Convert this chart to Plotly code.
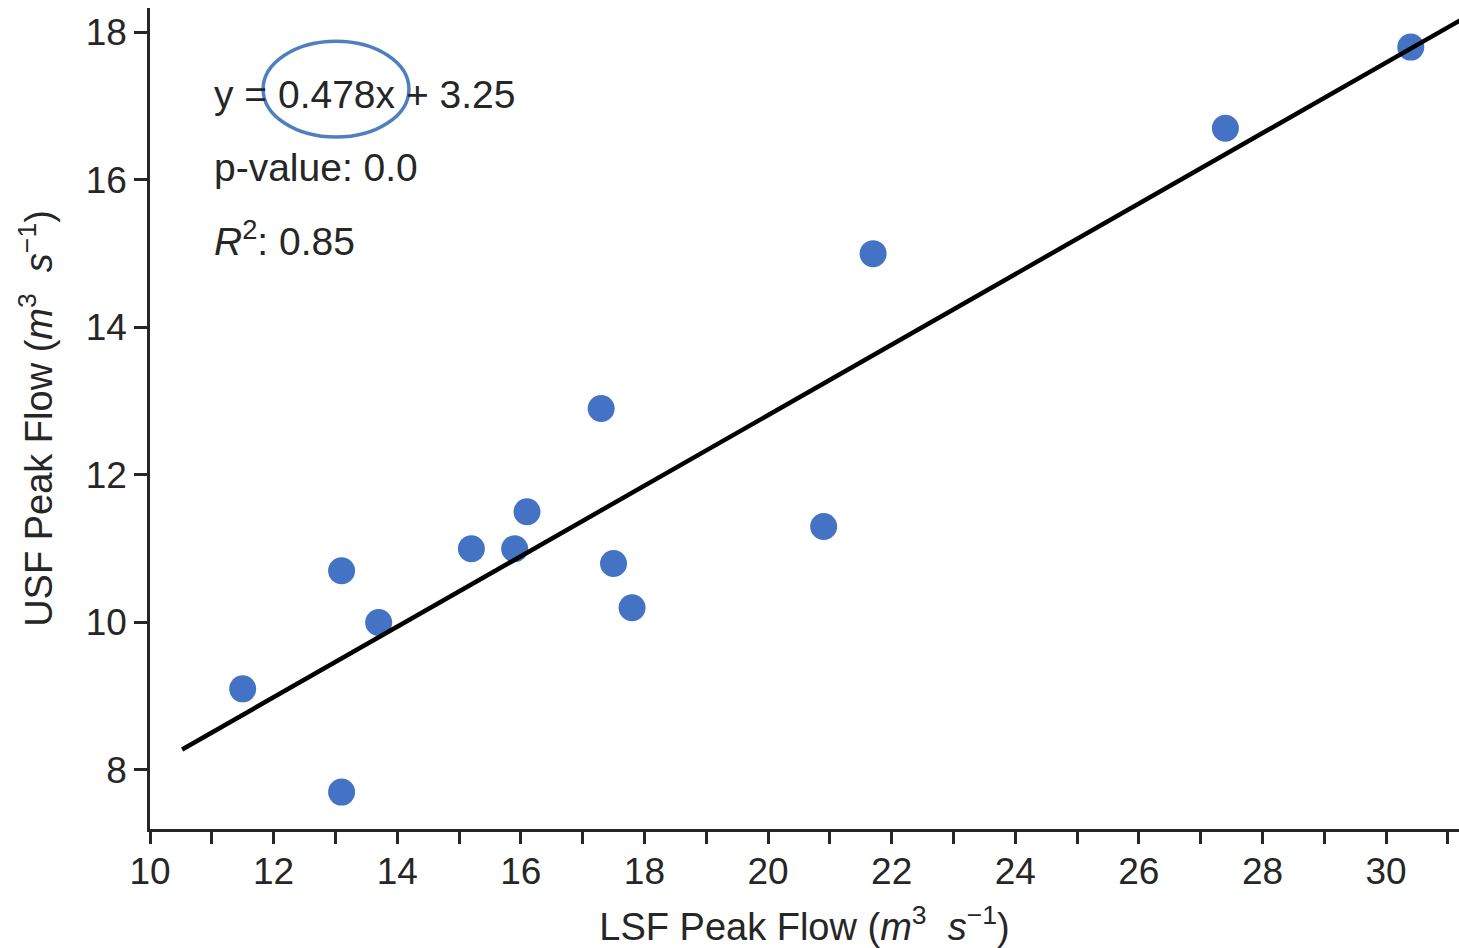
import plotly.graph_objects as go

# Data
lsf_peak = [11.5, 13.1, 13.1, 13.7, 15.2, 15.9, 16.1, 17.3, 17.5, 17.8, 20.9, 21.7, 27.4, 30.4]
usf_peak = [9.1, 7.7, 10.7, 10.0, 11.0, 11.0, 11.5, 12.9, 10.8, 10.2, 11.3, 15.0, 16.7, 17.8]
slope = 0.478
intercept = 3.25
fit_x = [10.52, 31.3]
fit_y = [slope * v + intercept for v in fit_x]

x_ticks = list(range(10, 32))
x_labels = [str(v) if v % 2 == 0 else "" for v in x_ticks]
y_ticks = [8, 10, 12, 14, 16, 18]

FONT = "Liberation Sans, Arial, Helvetica, sans-serif"
TXT = "#262626"
UNIT = "(<i>m</i><sup>3</sup>&nbsp;&nbsp;<i>s</i><sup>\u22121</sup>)"

fig = go.Figure()
fig.add_trace(go.Scatter(
    x=lsf_peak, y=usf_peak, mode="markers",
    marker=dict(size=27, color="#4472C4", line=dict(width=0)),
    showlegend=False,
))
fig.add_trace(go.Scatter(
    x=fit_x, y=fit_y, mode="lines",
    line=dict(color="black", width=4.5),
    showlegend=False,
))

fig.update_layout(
    width=1459, height=948,
    margin=dict(l=150, r=0, t=8, b=119),
    paper_bgcolor="white", plot_bgcolor="white",
    font=dict(family=FONT, size=36, color=TXT),
    xaxis=dict(
        range=[10, 31.18], tickmode="array", tickvals=x_ticks, ticktext=x_labels,
        showgrid=False, zeroline=False, showline=True, linecolor=TXT, linewidth=2.5,
        ticks="outside", ticklen=12, tickwidth=2.5, tickcolor=TXT,
        tickfont=dict(size=37, color=TXT), ticklabelstandoff=-4,
        title=dict(text="LSF Peak Flow " + UNIT,
                   font=dict(size=38, color=TXT), standoff=25),
    ),
    yaxis=dict(
        range=[7.2, 18.33], tickmode="array", tickvals=y_ticks,
        showgrid=False, zeroline=False, showline=True, linecolor=TXT, linewidth=2.5,
        ticks="outside", ticklen=13, tickwidth=2.5, tickcolor=TXT,
        tickfont=dict(size=37, color=TXT),
        title=dict(text="USF Peak Flow " + UNIT,
                   font=dict(size=38, color=TXT), standoff=22),
    ),
)

texts = [
    ("y = 0.478x + 3.25", 17.16),
    ("p-value: 0.0", 16.17),
    ("<i>R</i><sup>2</sup>: 0.85", 15.2),
]
for t, yv in texts:
    fig.add_annotation(x=11.0, y=yv, text=t, showarrow=False, xanchor="left",
                       yanchor="middle", font=dict(size=39, color=TXT, family=FONT))

fig.add_shape(type="circle", xref="x", yref="y", x0=11.83, x1=14.19, y0=16.58, y1=17.88,
              line=dict(color="#4F7FBF", width=3.5))

fig.write_html("out.html")
